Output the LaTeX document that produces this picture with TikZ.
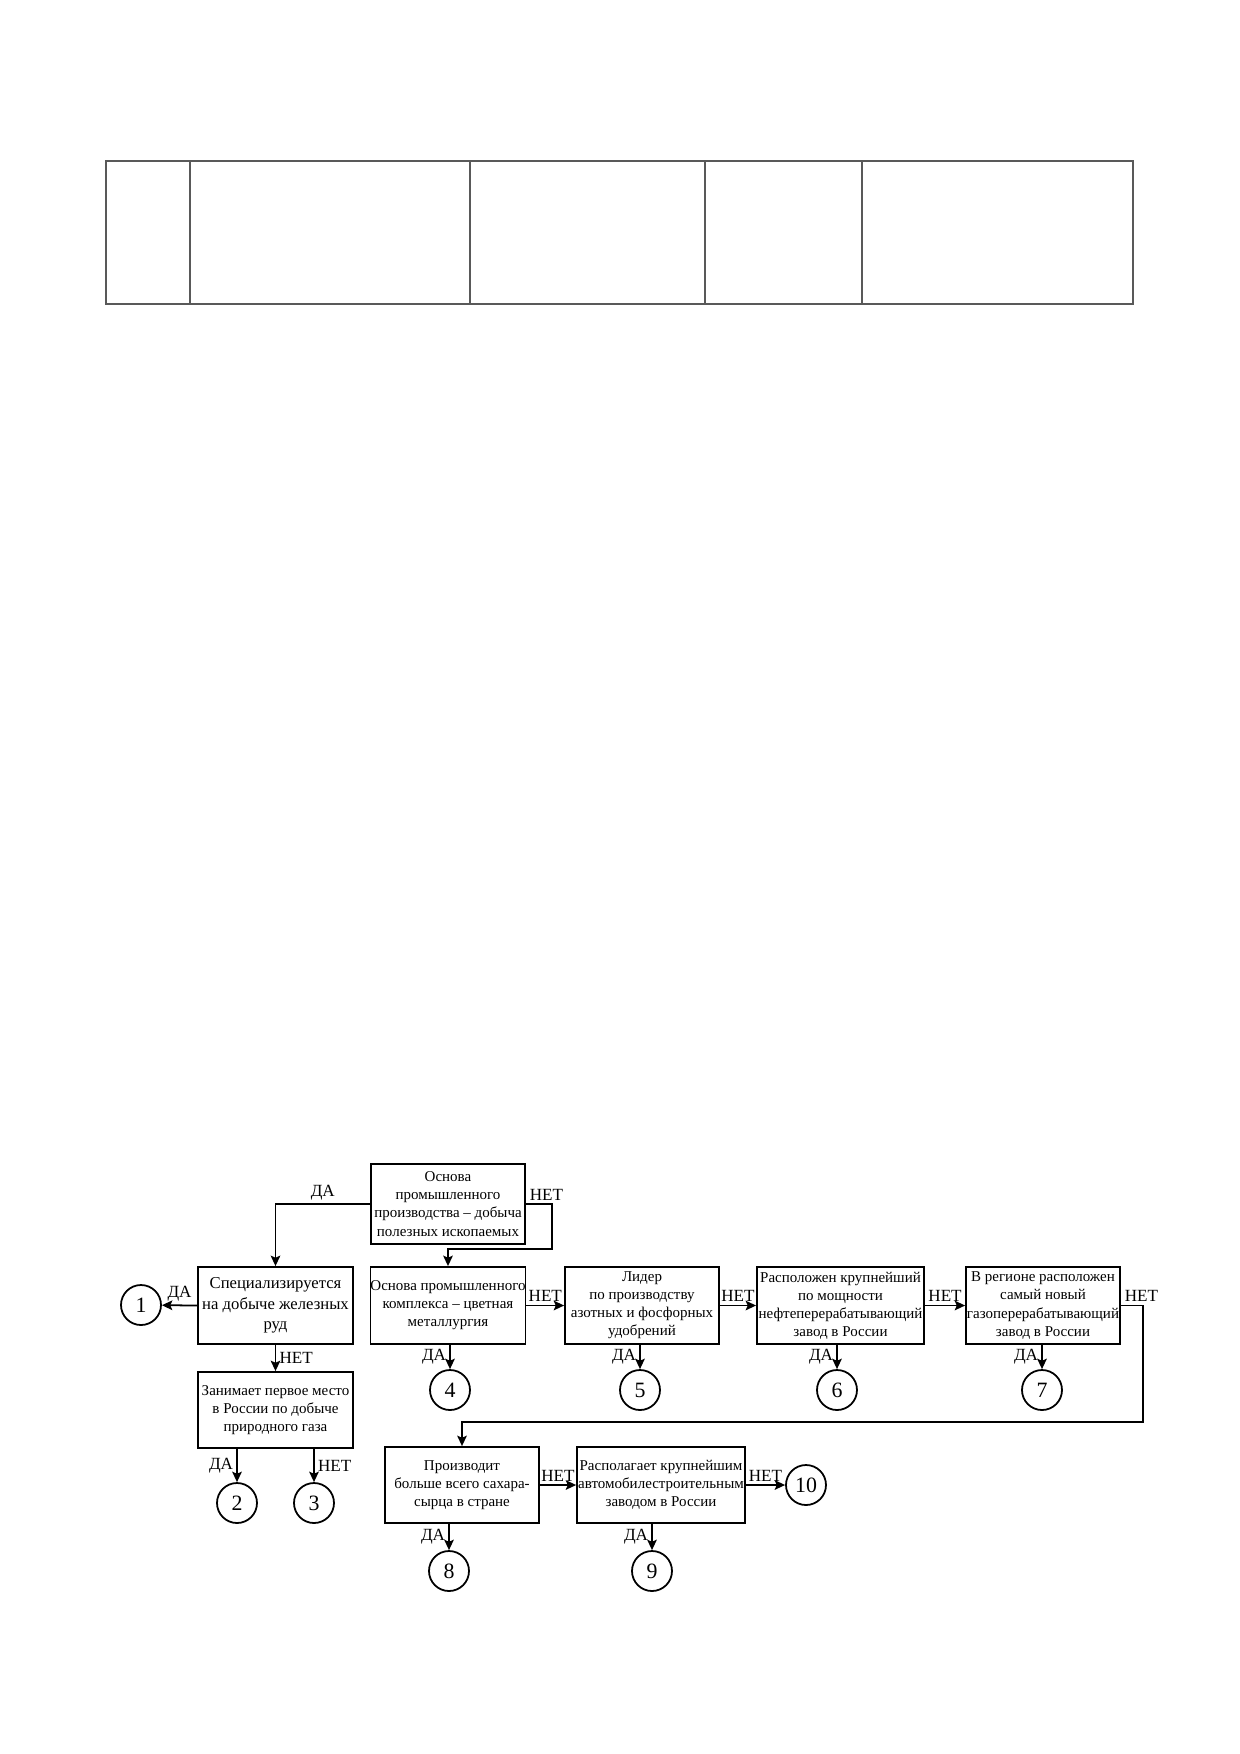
\documentclass[tikz,border=0pt]{standalone}
\usepackage{fontspec}
\setmainfont{Liberation Serif}
\usetikzlibrary{arrows.meta}
\begin{document}
\begin{tikzpicture}[x=0.48pt,y=-0.48pt,
  box/.style={draw, line width=0.85pt, inner sep=0pt, align=center, font=\fontsize{7.2}{8.7}\selectfont},
  bigbox/.style={box, font=\fontsize{8}{9.8}\selectfont},
  circ/.style={draw, circle, line width=0.85pt, minimum size=19.2pt, inner sep=0pt, font=\fontsize{10.5}{11}\selectfont},
  arr/.style={line width=0.85pt, -{Stealth[length=5pt,width=4.6pt,inset=1pt]}},
  lbl/.style={font=\fontsize{8.2}{9}\selectfont, inner sep=1.5pt},
  tbl/.style={line width=0.9pt, draw=black!65}]
\useasboundingbox (0,0) rectangle (1240,1754);
% table
\draw[tbl] (106,161) rectangle (1133,304);
\foreach \xx in {190,470,705,862} \draw[tbl] (\xx,161) -- (\xx,304);
% boxes
\node[box, minimum width=73.9pt, minimum height=38.4pt] (A) at (448,1204) {Основа\\промышленного\\производства – добыча\\полезных ископаемых};
\node[bigbox, minimum width=74.4pt, minimum height=37pt] (B) at (275.5,1305.5) {Специализируется\\на добыче железных\\руд};
\node[box, minimum width=73.9pt, minimum height=37pt] (C) at (448,1305.5) {Основа промышленного\\комплекса – цветная\\металлургия};
\node[box, minimum width=73.9pt, minimum height=37pt] (D) at (642,1305.5) {Лидер\\по производству\\азотных и фосфорных\\удобрений};
\node[box, minimum width=80.2pt, minimum height=37pt] (E) at (840.5,1305.5) {Расположен крупнейший\\по мощности\\нефтеперерабатывающий\\завод в России};
\node[box, minimum width=73.9pt, minimum height=37pt] (F) at (1043,1305.5) {В регионе расположен\\самый новый\\газоперерабатывающий\\завод в России};
\node[box, minimum width=74.4pt, minimum height=36.5pt] (Z) at (275.5,1410) {Занимает первое место\\в России по добыче\\природного газа};
\node[box, minimum width=73.9pt, minimum height=36.5pt] (G) at (462,1485) {Производит\\больше всего сахара-\\сырца в стране};
\node[box, minimum width=80.6pt, minimum height=36.5pt] (H) at (661,1485) {Располагает крупнейшим\\автомобилестроительным\\заводом в России};
% circles
\node[circ] (c1) at (141,1305) {1};
\node[circ] (c2) at (237,1503) {2};
\node[circ] (c3) at (314,1503) {3};
\node[circ] (c4) at (450,1390) {4};
\node[circ] (c5) at (640,1390) {5};
\node[circ] (c6) at (837,1390) {6};
\node[circ] (c7) at (1042,1390) {7};
\node[circ] (c8) at (449,1571) {8};
\node[circ] (c9) at (652,1571) {9};
\node[circ] (c10) at (806,1485) {10};
% connectors
\draw[arr] (A.west) -| node[lbl, pos=0.25, above] {ДА} (B.north);
\draw[arr] (A.east) node[lbl, above right] {НЕТ} -| (552,1249) -| (C.north);
\draw[arr] (B.west) -- node[lbl, above] {ДА} (c1);
\draw[arr] (B.south) -- node[lbl, right] {НЕТ} (Z.north);
\draw[arr] (c2 |- Z.south) -- node[lbl, left] {ДА} (c2);
\draw[arr] (c3 |- Z.south) -- node[lbl, right] {НЕТ} (c3);
\draw[arr] (C.east) -- node[lbl, above] {НЕТ} (D.west);
\draw[arr] (D.east) -- node[lbl, above] {НЕТ} (E.west);
\draw[arr] (E.east) -- node[lbl, above] {НЕТ} (F.west);
\draw[arr] (c4 |- C.south) -- node[lbl, left] {ДА} (c4);
\draw[arr] (c5 |- D.south) -- node[lbl, left] {ДА} (c5);
\draw[arr] (c6 |- E.south) -- node[lbl, left] {ДА} (c6);
\draw[arr] (c7 |- F.south) -- node[lbl, left] {ДА} (c7);
\draw[arr] (F.east) node[lbl, above right] {НЕТ} -| (1143,1422) -| (G.north);
\draw[arr] (G.east) -- node[lbl, above] {НЕТ} (H.west);
\draw[arr] (H.east) -- node[lbl, above] {НЕТ} (c10);
\draw[arr] (c8 |- G.south) -- node[lbl, left] {ДА} (c8);
\draw[arr] (c9 |- H.south) -- node[lbl, left] {ДА} (c9);
\end{tikzpicture}
\end{document}
